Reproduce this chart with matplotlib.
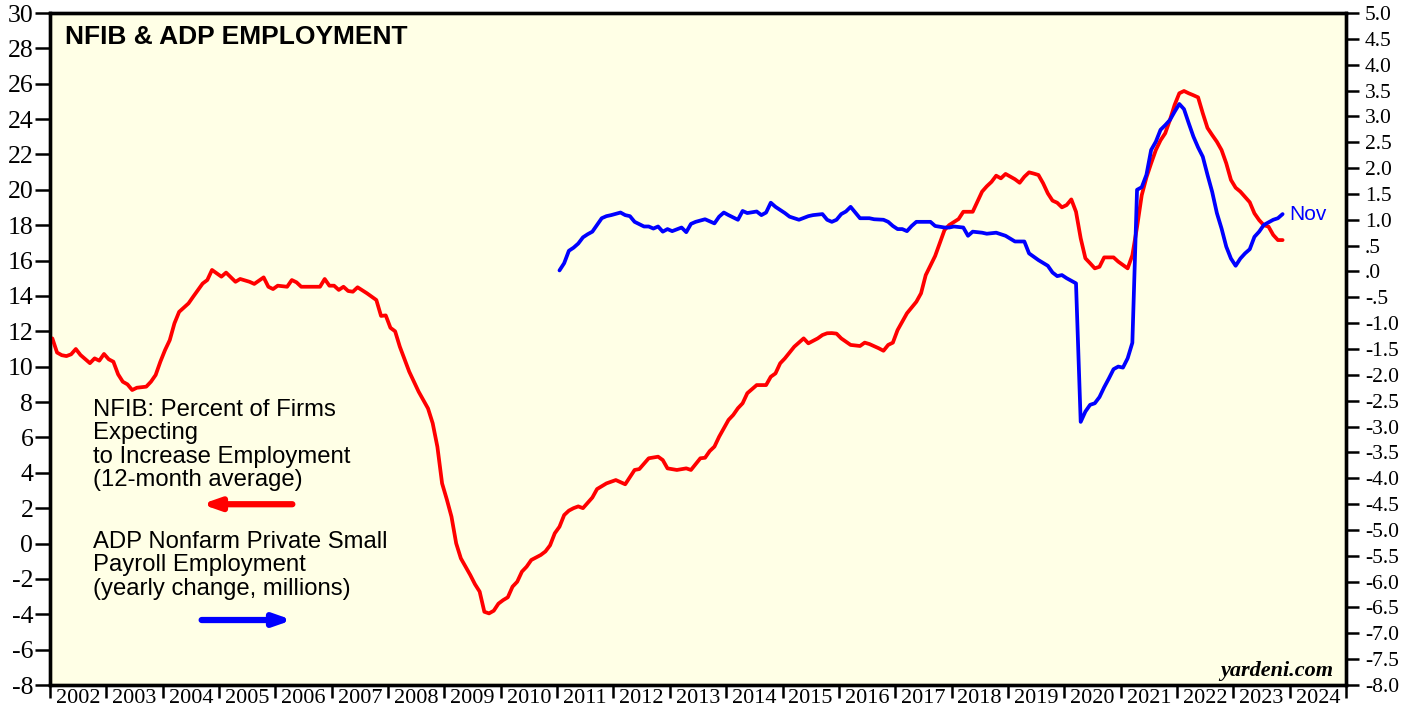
import matplotlib
matplotlib.use("Agg")
import matplotlib.pyplot as plt
import numpy as np
import pandas as pd

# NFIB: percent of firms expecting to increase employment (12-month average), left axis
nfib_dates = [
    "2002-01", "2002-02", "2002-03", "2002-04", "2002-05", "2002-06", "2002-07", "2002-09",
    "2002-10", "2002-11", "2002-12", "2003-01", "2003-02", "2003-03", "2003-04", "2003-05",
    "2003-06", "2003-07", "2003-09", "2003-10", "2003-11", "2003-12", "2004-01", "2004-02",
    "2004-03", "2004-04", "2004-06", "2004-07", "2004-09", "2004-10", "2004-11", "2005-01",
    "2005-02", "2005-04", "2005-05", "2005-07", "2005-08", "2005-10", "2005-11", "2005-12",
    "2006-01", "2006-03", "2006-04", "2006-05", "2006-06", "2006-10", "2006-11", "2006-12",
    "2007-01", "2007-02", "2007-03", "2007-04", "2007-05", "2007-06", "2007-08", "2007-10",
    "2007-11", "2007-12", "2008-01", "2008-02", "2008-03", "2008-05", "2008-07", "2008-09",
    "2008-10", "2008-11", "2008-12", "2009-01", "2009-02", "2009-03", "2009-04", "2009-06",
    "2009-07", "2009-08", "2009-09", "2009-10", "2009-11", "2009-12", "2010-01", "2010-02",
    "2010-03", "2010-04", "2010-05", "2010-06", "2010-07", "2010-09", "2010-10", "2010-11",
    "2010-12", "2011-01", "2011-02", "2011-03", "2011-04", "2011-05", "2011-06", "2011-07",
    "2011-08", "2011-09", "2011-11", "2012-01", "2012-03", "2012-05", "2012-06", "2012-08",
    "2012-10", "2012-11", "2012-12", "2013-02", "2013-04", "2013-05", "2013-07", "2013-08",
    "2013-09", "2013-10", "2013-11", "2014-01", "2014-02", "2014-03", "2014-04", "2014-05",
    "2014-07", "2014-09", "2014-10", "2014-11", "2014-12", "2015-01", "2015-03", "2015-05",
    "2015-06", "2015-08", "2015-09", "2015-10", "2015-11", "2015-12", "2016-01", "2016-03",
    "2016-05", "2016-06", "2016-07", "2016-09", "2016-10", "2016-11", "2016-12", "2017-01",
    "2017-03", "2017-05", "2017-06", "2017-07", "2017-09", "2017-11", "2017-12", "2018-02",
    "2018-03", "2018-05", "2018-06", "2018-07", "2018-08", "2018-09", "2018-10", "2018-11",
    "2018-12", "2019-01", "2019-02", "2019-03", "2019-04", "2019-05", "2019-06", "2019-07",
    "2019-08", "2019-09", "2019-10", "2019-11", "2019-12", "2020-01", "2020-02", "2020-03",
    "2020-04", "2020-05", "2020-06", "2020-07", "2020-08", "2020-09", "2020-11", "2020-12",
    "2021-01", "2021-02", "2021-03", "2021-04", "2021-05", "2021-06", "2021-07", "2021-08",
    "2021-09", "2021-10", "2021-11", "2021-12", "2022-01", "2022-02", "2022-03", "2022-04",
    "2022-05", "2022-06", "2022-07", "2022-08", "2022-09", "2022-10", "2022-11", "2022-12",
    "2023-01", "2023-02", "2023-03", "2023-04", "2023-05", "2023-06", "2023-07", "2023-08",
    "2023-09", "2023-10", "2023-11",
]
nfib_values = [
    11.6, 10.8, 10.65, 10.6, 10.7, 11.0, 10.66, 10.2,
    10.47, 10.34, 10.72, 10.42, 10.28, 9.57, 9.15, 9.0,
    8.68, 8.81, 8.87, 9.15, 9.53, 10.28, 10.94, 11.5,
    12.45, 13.1, 13.58, 13.96, 14.7, 14.9, 15.47, 15.09,
    15.32, 14.8, 14.96, 14.8, 14.68, 15.05, 14.52, 14.39,
    14.58, 14.52, 14.9, 14.77, 14.52, 14.52, 14.96, 14.58,
    14.58, 14.34, 14.52, 14.28, 14.24, 14.49, 14.15, 13.77,
    12.87, 12.9, 12.2, 12.0, 11.13, 9.72, 8.59, 7.64,
    6.8, 5.47, 3.4, 2.5, 1.52, 0.01, -0.84, -1.78,
    -2.3, -2.72, -3.86, -3.95, -3.8, -3.4, -3.2, -3.04,
    -2.44, -2.16, -1.59, -1.31, -0.93, -0.65, -0.45, -0.1,
    0.58, 0.95, 1.61, 1.86, 2.0, 2.1, 2.0, 2.3,
    2.6, 3.08, 3.4, 3.59, 3.35, 4.16, 4.21, 4.82,
    4.91, 4.72, 4.25, 4.16, 4.25, 4.16, 4.82, 4.85,
    5.23, 5.48, 6.04, 6.99, 7.27, 7.65, 7.93, 8.5,
    8.96, 8.96, 9.43, 9.62, 10.19, 10.47, 11.13, 11.6,
    11.32, 11.6, 11.79, 11.89, 11.9, 11.87, 11.6, 11.23,
    11.17, 11.36, 11.28, 11.04, 10.9, 11.23, 11.36, 12.07,
    13.02, 13.67, 14.15, 15.18, 16.26, 17.73, 18.01, 18.35,
    18.76, 18.76, 19.33, 19.9, 20.2, 20.45, 20.8, 20.65,
    20.9, 20.75, 20.6, 20.4, 20.74, 20.99, 20.92, 20.84,
    20.37, 19.8, 19.39, 19.27, 19.01, 19.14, 19.46, 18.76,
    17.26, 16.13, 15.85, 15.56, 15.65, 16.18, 16.18, 15.94,
    15.75, 15.56, 16.3, 17.9, 19.7, 20.7, 21.5, 22.25,
    22.8, 23.2, 23.95, 24.8, 25.46, 25.59, 25.46, 25.35,
    25.23, 24.33, 23.5, 23.1, 22.72, 22.25, 21.5, 20.56,
    20.12, 19.9, 19.6, 19.3, 18.67, 18.29, 18.0, 17.92,
    17.45, 17.16, 17.16,
]

# ADP small payroll employment, yearly change in millions, right axis
adp_dates = [
    "2011-01", "2011-02", "2011-03", "2011-04", "2011-05", "2011-06", "2011-07", "2011-08",
    "2011-09", "2011-10", "2011-11", "2011-12", "2012-02", "2012-03", "2012-04", "2012-05",
    "2012-07", "2012-08", "2012-09", "2012-10", "2012-11", "2012-12", "2013-01", "2013-03",
    "2013-04", "2013-05", "2013-06", "2013-08", "2013-10", "2013-11", "2013-12", "2014-01",
    "2014-03", "2014-04", "2014-05", "2014-07", "2014-08", "2014-09", "2014-10", "2014-11",
    "2015-01", "2015-02", "2015-04", "2015-06", "2015-07", "2015-09", "2015-10", "2015-11",
    "2015-12", "2016-01", "2016-02", "2016-03", "2016-04", "2016-05", "2016-07", "2016-08",
    "2016-10", "2016-11", "2016-12", "2017-01", "2017-02", "2017-03", "2017-04", "2017-05",
    "2017-06", "2017-08", "2017-09", "2017-11", "2017-12", "2018-01", "2018-03", "2018-04",
    "2018-05", "2018-07", "2018-08", "2018-10", "2018-11", "2018-12", "2019-02", "2019-04",
    "2019-05", "2019-07", "2019-09", "2019-10", "2019-11", "2019-12", "2020-01", "2020-03",
    "2020-04", "2020-05", "2020-06", "2020-07", "2020-08", "2020-09", "2020-10", "2020-11",
    "2020-12", "2021-01", "2021-02", "2021-03", "2021-04", "2021-05", "2021-06", "2021-07",
    "2021-08", "2021-09", "2021-10", "2021-11", "2021-12", "2022-01", "2022-02", "2022-03",
    "2022-04", "2022-05", "2022-06", "2022-07", "2022-08", "2022-09", "2022-10", "2022-11",
    "2022-12", "2023-01", "2023-02", "2023-03", "2023-04", "2023-05", "2023-06", "2023-07",
    "2023-08", "2023-09", "2023-10", "2023-11",
]
adp_values = [
    0.02, 0.16, 0.40, 0.46, 0.54, 0.66, 0.72, 0.77,
    0.90, 1.03, 1.07, 1.09, 1.14, 1.09, 1.07, 0.96,
    0.87, 0.87, 0.83, 0.87, 0.77, 0.82, 0.78, 0.85,
    0.76, 0.92, 0.96, 1.01, 0.93, 1.06, 1.14, 1.09,
    1.0, 1.17, 1.13, 1.16, 1.09, 1.14, 1.33, 1.25,
    1.13, 1.06, 1.0, 1.07, 1.09, 1.11, 1.0, 0.96,
    1.0, 1.11, 1.16, 1.25, 1.14, 1.03, 1.03, 1.01,
    1.0, 0.96, 0.88, 0.82, 0.82, 0.78, 0.88, 0.96,
    0.96, 0.96, 0.88, 0.85, 0.85, 0.87, 0.85, 0.69,
    0.77, 0.75, 0.73, 0.75, 0.72, 0.69, 0.58, 0.58,
    0.35, 0.22, 0.11, -0.02, -0.09, -0.07, -0.13, -0.23,
    -2.91, -2.71, -2.58, -2.55, -2.43, -2.24, -2.07, -1.89,
    -1.84, -1.86, -1.68, -1.38, 1.58, 1.63, 1.87, 2.35,
    2.51, 2.74, 2.83, 2.93, 3.09, 3.24, 3.14, 2.87,
    2.61, 2.4, 2.22, 1.87, 1.54, 1.13, 0.83, 0.48,
    0.25, 0.11, 0.25, 0.35, 0.43, 0.67, 0.77, 0.9,
    0.95, 1.0, 1.03, 1.11,
]

years = list(range(2002, 2025))
left_ticks = list(range(-8, 31, 2))
right_ticks = [-8.0 + 0.5 * i for i in range(27)]

RED = "#FF0000"
BLUE = "#0000FF"
BG = "#FFFFE6"
SANS = "Liberation Sans"
SERIF = "Liberation Serif"


def to_year_frac(dates):
    # monthly points are plotted at mid-month
    d = pd.to_datetime(dates)
    return d.year + (d.month - 0.5) / 12.0


def right_label(v):
    s = "%.1f" % abs(v)
    if s.startswith("0"):
        s = s[1:]
    return ("-" if v < 0 else "") + s


fig = plt.figure(figsize=(14.21, 7.17), dpi=100)
ax = fig.add_axes([50 / 1421, 32 / 717, 1296 / 1421, 672 / 717])
ax.set_facecolor(BG)
ax2 = ax.twinx()

ax.plot(to_year_frac(nfib_dates), nfib_values, color=RED, lw=2.7,
        solid_capstyle="round", solid_joinstyle="round", zorder=3)
adp_x = to_year_frac(adp_dates)
ax2.plot(adp_x, adp_values, color=BLUE, lw=2.7,
         solid_capstyle="round", solid_joinstyle="round", zorder=3)

ax.set_xlim(years[0], years[-1] + 1)
ax.set_ylim(-8, 30)
ax2.set_ylim(-8, 5)

# left axis
ax.set_yticks(left_ticks)
ax.set_yticklabels([str(v) for v in left_ticks], fontname=SERIF, fontsize=18.5)
ax.tick_params(axis="y", direction="out", length=11, width=1.8, pad=1)

# right axis
ax2.set_yticks(right_ticks)
ax2.set_yticklabels([right_label(v) for v in right_ticks], fontname=SERIF, fontsize=15.5)
ax2.tick_params(axis="y", direction="out", length=9.5, width=1.8, pad=4)

# x axis: ticks at year boundaries, labels centered in each year
ax.set_xticks([y for y in years] + [years[-1] + 1])
ax.set_xticklabels([])
ax.set_xticks([y + 0.5 for y in years], minor=True)
ax.set_xticklabels([str(y) for y in years], minor=True, fontname=SERIF, fontsize=16)
ax.tick_params(axis="x", which="major", direction="out", length=9, width=1.8)
ax.tick_params(axis="x", which="minor", length=0, pad=3)

for a in (ax, ax2):
    for sp in a.spines.values():
        sp.set_linewidth(2.4)

ax.text(0.0116, 0.982, "NFIB & ADP EMPLOYMENT", transform=ax.transAxes,
        fontname=SANS, fontweight="bold", fontsize=19, va="top", ha="left")

ax.text(0.0332, 0.4255,
        "NFIB: Percent of Firms\nExpecting\nto Increase Employment\n(12-month average)",
        transform=ax.transAxes, fontname=SANS, fontsize=17.2, va="top", ha="left",
        linespacing=1.08)
ax.annotate("", xy=(0.117, 0.269), xytext=(0.187, 0.269), xycoords="axes fraction",
            arrowprops=dict(arrowstyle="-|>,head_length=1.0,head_width=0.35",
                            color=RED, lw=4.5, shrinkA=0, shrinkB=0))

ax.text(0.0332, 0.229,
        "ADP Nonfarm Private Small\nPayroll Employment\n(yearly change, millions)",
        transform=ax.transAxes, fontname=SANS, fontsize=17.2, va="top", ha="left",
        linespacing=1.08)
ax.annotate("", xy=(0.187, 0.0967), xytext=(0.117, 0.0967), xycoords="axes fraction",
            arrowprops=dict(arrowstyle="-|>,head_length=1.0,head_width=0.35",
                            color=BLUE, lw=4.5, shrinkA=0, shrinkB=0))

ax2.annotate("Nov", xy=(adp_x[-1], adp_values[-1]), xytext=(5, 0),
             textcoords="offset points", color=BLUE, fontname=SANS,
             fontsize=15, va="center", ha="left")

ax.text(0.99, 0.014, "yardeni.com", transform=ax.transAxes, fontname=SERIF,
        fontweight="bold", fontstyle="italic", fontsize=16, ha="right", va="baseline")

fig.savefig("out.png", dpi=100, facecolor="white")
